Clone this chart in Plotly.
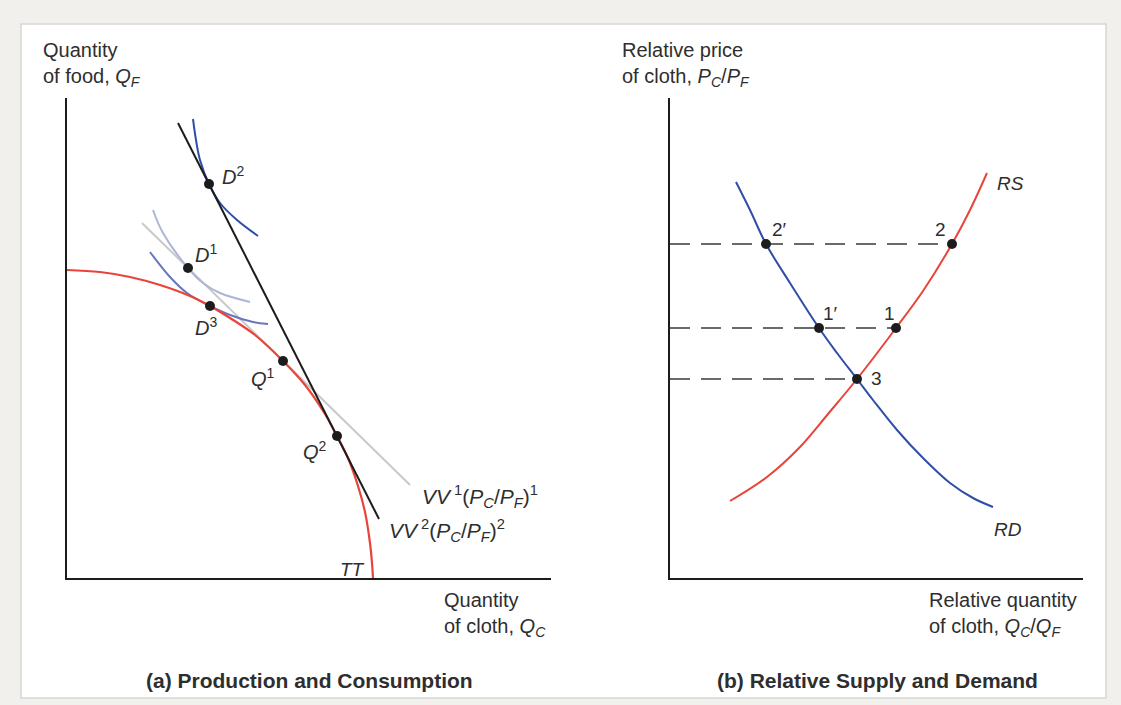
import plotly.graph_objects as go

W, H = 1121, 705

# ---------------- Panel (a): Production and Consumption (units from origin) ----------------
tt_x = [0, 33, 63, 93, 123, 143, 163, 188, 216, 238, 258, 270, 281, 291, 298, 303, 305, 306]
tt_y = [308, 306, 301, 293, 282, 272, 260, 243, 217, 193, 164, 142, 120, 92, 66, 35, 15, 0]

vv1_x = [75, 343]
vv1_y = [355, 93]
vv2_x = [111, 312]
vv2_y = [455, 59]

ic2_x = [126, 129, 133, 142, 153, 170, 191]
ic2_y = [459, 438, 418, 394, 375, 358, 342]
ic1_x = [86, 96, 121, 136, 153, 183]
ic1_y = [368, 345, 310, 295, 285, 276]
ic3_x = [83, 103, 120, 143, 163, 186, 201]
ic3_y = [326, 301, 285, 272, 263, 256, 254]

pts_a_x = [142, 121, 143, 216, 270]
pts_a_y = [394, 310, 272, 217, 142]

lab_a_text = ["<i>D</i><sup>2</sup>", "<i>D</i><sup>1</sup>", "<i>D</i><sup>3</sup>",
              "<i>Q</i><sup>1</sup>", "<i>Q</i><sup>2</sup>", "<i>TT</i>",
              "<i>VV</i><sup> 1</sup>(<i>P<sub>C</sub></i>/<i>P<sub>F</sub></i>)<sup>1</sup>",
              "<i>VV</i><sup> 2</sup>(<i>P<sub>C</sub></i>/<i>P<sub>F</sub></i>)<sup>2</sup>"]
lab_a_x = [153, 126, 126, 196, 248, 285, 353, 320]
lab_a_y = [403, 325, 252, 201, 128, 9, 82, 48]
lab_a_anchor = ["left", "left", "left", "center", "center", "center", "left", "left"]
lab_a_size = [20, 20, 20, 20, 20, 19, 21, 21]

# ---------------- Panel (b): Relative Supply and Demand ----------------
rs_x = [60, 97, 130, 158, 187, 226, 253, 282, 300, 317]
rs_y = [77, 101, 131, 164, 199, 250, 287, 334, 368, 405]
rd_x = [66, 80, 96, 120, 149, 167, 187, 203, 227, 253, 280, 303, 323]
rd_y = [396, 368, 334, 295, 250, 225, 199, 178, 148, 120, 95, 80, 71]

pts_b_x = [96, 282, 149, 226, 187]
pts_b_y = [334, 334, 250, 250, 199]
dash_levels = [334, 250, 199]
dash_ends = [282, 226, 187]

lab_b_text = ["2\u2032", "2", "1\u2032", "1", "3", "<i>RS</i>", "<i>RD</i>"]
lab_b_x = [109, 270, 160, 219, 206, 340, 338]
lab_b_y = [349, 349, 265, 265, 200, 395, 49]

# ---------------- styling ----------------
RED = "#e8443a"
BLUE = "#2f4ea8"
BLUE_MID = "#6877bd"
BLUE_LIGHT = "#aeb5d6"
GRAY = "#c9c9c9"
INK = "#1c1c1c"
TXT = "#2e2e2e"
FONT = "Liberation Sans, Arial, Helvetica, sans-serif"

fig = go.Figure()

def line(x, y, color, width=2, xa="x", ya="y", shape="spline", dash=None):
    fig.add_trace(go.Scatter(x=x, y=y, mode="lines", xaxis=xa, yaxis=ya,
                             line=dict(color=color, width=width, shape=shape, dash=dash),
                             hoverinfo="skip", showlegend=False, cliponaxis=False))

# panel a
line(vv1_x, vv1_y, GRAY, 2, shape="linear")
line(ic1_x, ic1_y, BLUE_LIGHT, 2)
line(ic3_x, ic3_y, BLUE_MID, 2)
line(ic2_x, ic2_y, BLUE, 2)
line(tt_x, tt_y, RED, 2.2)
line(vv2_x, vv2_y, INK, 2, shape="linear")
fig.add_trace(go.Scatter(x=pts_a_x, y=pts_a_y, mode="markers", xaxis="x", yaxis="y",
                         marker=dict(color=INK, size=10), hoverinfo="skip",
                         showlegend=False, cliponaxis=False))

# panel b
for lv, end in zip(dash_levels, dash_ends):
    line([0, end], [lv, lv], "#3a3a3a", 1.6, "x2", "y2", "linear", "20px,11px")
line(rs_x, rs_y, RED, 2, "x2", "y2")
line(rd_x, rd_y, BLUE, 2, "x2", "y2")
fig.add_trace(go.Scatter(x=pts_b_x, y=pts_b_y, mode="markers", xaxis="x2", yaxis="y2",
                         marker=dict(color=INK, size=10), hoverinfo="skip",
                         showlegend=False, cliponaxis=False))

ann = []
for t, x, y, a, s in zip(lab_a_text, lab_a_x, lab_a_y, lab_a_anchor, lab_a_size):
    ann.append(dict(text=t, x=x, y=y, xref="x", yref="y", xanchor=a, yanchor="middle",
                    showarrow=False, font=dict(size=s, color=TXT, family=FONT)))
for t, x, y in zip(lab_b_text, lab_b_x, lab_b_y):
    ann.append(dict(text=t, x=x, y=y, xref="x2", yref="y2", xanchor="center", yanchor="middle",
                    showarrow=False, font=dict(size=19, color=TXT, family=FONT)))

def pp(px, py):
    return px / W, 1 - py / H

axis_labels = [
    ("Quantity<br>of food, <i>Q<sub>F</sub></i>", 41, 64),
    ("Quantity<br>of cloth, <i>Q<sub>C</sub></i>", 442, 614),
    ("Relative price<br>of cloth, <i>P<sub>C</sub></i>/<i>P<sub>F</sub></i>", 620, 64),
    ("Relative quantity<br>of cloth, <i>Q<sub>C</sub></i>/<i>Q<sub>F</sub></i>", 927, 614),
]
for t, px, py in axis_labels:
    x, y = pp(px, py)
    ann.append(dict(text=t, x=x, y=y, xref="paper", yref="paper", xanchor="left",
                    yanchor="middle", align="left", showarrow=False,
                    font=dict(size=20, color=TXT, family=FONT)))

titles = [("<b>(a) Production and Consumption</b>", 309, 680),
          ("<b>(b) Relative Supply and Demand</b>", 877, 680)]
for t, px, py in titles:
    x, y = pp(px, py)
    ann.append(dict(text=t, x=x, y=y, xref="paper", yref="paper", xanchor="center",
                    yanchor="middle", showarrow=False,
                    font=dict(size=21, color=TXT, family=FONT)))

ax_common = dict(showgrid=False, zeroline=False, showticklabels=False, ticks="",
                 showline=True, linecolor=INK, linewidth=2.2, fixedrange=True)
y_dom = [1 - 578 / H, 1 - 98 / H]

fig.update_layout(
    width=W, height=H,
    margin=dict(l=0, r=0, t=0, b=0),
    paper_bgcolor="#f1f0ed",
    plot_bgcolor="rgba(0,0,0,0)",
    showlegend=False,
    xaxis=dict(domain=[67 / W, 551 / W], range=[0, 484], anchor="y", **ax_common),
    yaxis=dict(domain=y_dom, range=[0, 480], anchor="x", **ax_common),
    xaxis2=dict(domain=[670 / W, 1083 / W], range=[0, 413], anchor="y2", **ax_common),
    yaxis2=dict(domain=y_dom, range=[0, 480], anchor="x2", **ax_common),
    annotations=ann,
    shapes=[dict(type="rect", xref="paper", yref="paper",
                 x0=21 / W, x1=1106 / W, y0=1 - 698 / H, y1=1 - 24 / H,
                 fillcolor="#ffffff", line=dict(color="#d6d6d3", width=1.5), layer="below")],
)

fig.write_html("out.html", config={"displayModeBar": False, "staticPlot": True},
               post_script="document.body.style.margin='0px';document.body.style.overflow='hidden';")
